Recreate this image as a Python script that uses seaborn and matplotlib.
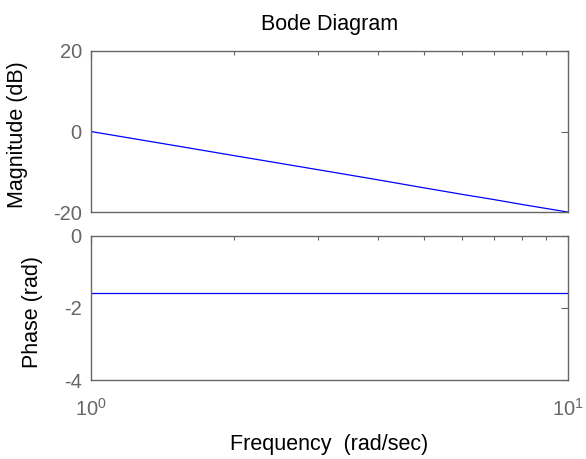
import numpy as np
import pandas as pd
import matplotlib
matplotlib.use("Agg")
import matplotlib.pyplot as plt
import seaborn as sns
from matplotlib.ticker import LogLocator, FixedLocator, NullFormatter

# Data
freq = [1.0, 1.5, 2.0, 3.0, 4.0, 5.0, 6.0, 7.0, 8.0, 9.0, 10.0]
magnitude_db = [0.0, -3.5, -6.0, -9.5, -12.0, -14.0, -15.6, -16.9, -18.1, -19.1, -20.0]
phase_rad = [-1.571] * len(freq)
mag_ticks = [-20, 0, 20]
phase_ticks = [-4, -2, 0]
x_ticks = [1, 10]
x_ticklabels = ['$10^0$', '$10^1$']

sns.set_style("white")
plt.rcParams['font.family'] = ['Liberation Sans', 'DejaVu Sans']
plt.rcParams['axes.unicode_minus'] = False
plt.rcParams['mathtext.default'] = 'regular'
plt.rcParams['mathtext.fontset'] = 'custom'
plt.rcParams['mathtext.rm'] = 'Liberation Sans'

grey = '#666666'
fig = plt.figure(figsize=(5.86, 4.59), dpi=100)
ax1 = fig.add_axes([0.155, 0.538, 0.814, 0.351])
ax2 = fig.add_axes([0.155, 0.172, 0.814, 0.314])

df_mag = pd.DataFrame({'freq': freq, 'mag': magnitude_db})
df_ph = pd.DataFrame({'freq': freq, 'phase': phase_rad})
sns.lineplot(data=df_mag, x='freq', y='mag', ax=ax1, color='#0000ff', linewidth=0.9)
sns.lineplot(data=df_ph, x='freq', y='phase', ax=ax2, color='#0000ff', linewidth=0.9)

for ax in (ax1, ax2):
    ax.set_xscale('log')
    ax.set_xlim(1, 10)
    for s in ax.spines.values():
        s.set_color(grey)
        s.set_linewidth(1.0)
    ax.tick_params(which='both', direction='in', top=True, right=True,
                   colors=grey, labelsize=14.5, width=0.8)
    ax.tick_params(which='major', length=5)
    ax.tick_params(which='minor', length=3)
    ax.tick_params(axis='y', pad=6.5)
    ax.xaxis.set_major_locator(FixedLocator(x_ticks))
    ax.xaxis.set_minor_locator(LogLocator(base=10, subs=np.arange(2, 10)))
    ax.xaxis.set_minor_formatter(NullFormatter())
    ax.set_xlabel('')

ax1.set_ylim(-20, 20)
ax1.set_yticks(mag_ticks)
ax1.set_xticklabels([])
ax1.set_ylabel('Magnitude (dB)', fontsize=15.5, color='black')
ax1.yaxis.set_label_coords(-0.132, 0.478)
ax1.set_title('Bode Diagram', fontsize=15.5, color='black', pad=15)

ax2.set_ylim(-4, 0)
ax2.set_yticks(phase_ticks)
ax2.set_xticks(x_ticks)
ax2.set_xticklabels(x_ticklabels)
ax2.tick_params(axis='x', pad=13)
ax2.set_ylabel('Phase (rad)', fontsize=15.5, color='black')
ax2.yaxis.set_label_coords(-0.1006, 0.472)
ax2.set_xlabel('Frequency  (rad/sec)', fontsize=15.5, color='black')
ax2.xaxis.set_label_coords(0.5, -0.375)

fig.savefig('out.png', dpi=100)
